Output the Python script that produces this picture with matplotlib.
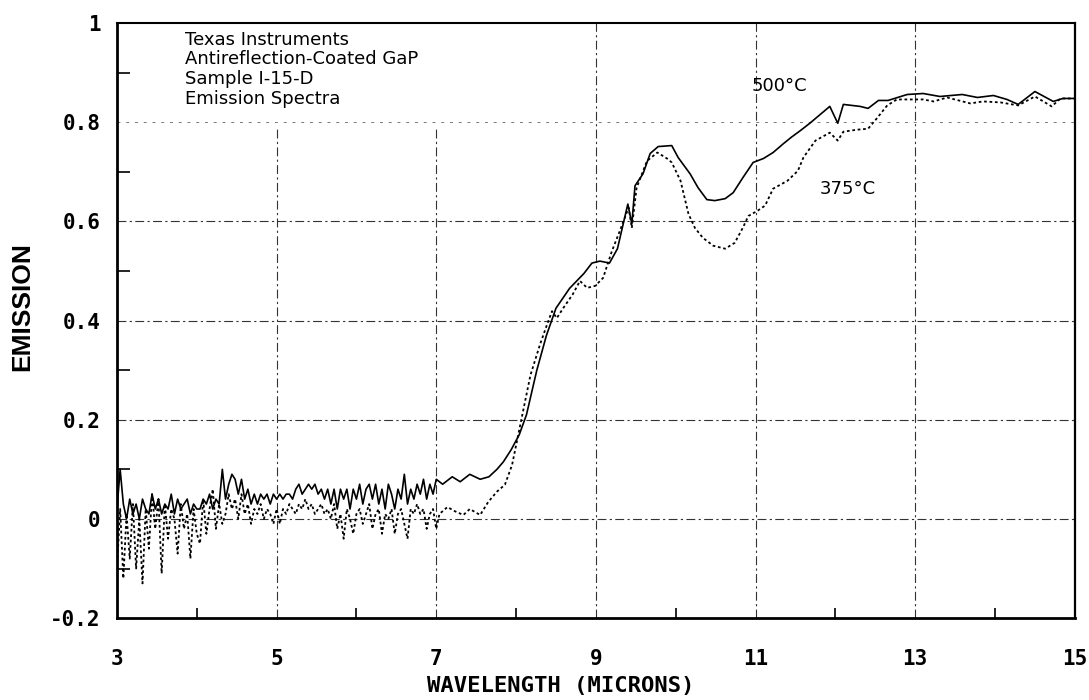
import numpy as np
import matplotlib
matplotlib.use("Agg")
import matplotlib.pyplot as plt
from matplotlib.ticker import MultipleLocator

# --- noisy region 3.00-7.00 um, sampled every 0.04 um ---
x_noisy = np.round(np.arange(3.0, 7.0001, 0.04), 2)

emis_500_noisy = [
    0.02, 0.10, 0.03, 0.00, 0.04, 0.01, 0.03, 0.00, 0.04, 0.02, 0.01,
    0.05, 0.02, 0.04, 0.01, 0.03, 0.02, 0.05, 0.01, 0.04, 0.02, 0.03, 0.04, 0.01, 0.03, 0.02,
    0.02, 0.04, 0.03, 0.05, 0.02, 0.04, 0.03, 0.10, 0.04, 0.07, 0.09, 0.08, 0.05, 0.08, 0.04,
    0.06, 0.03, 0.05, 0.03, 0.05, 0.04, 0.05, 0.03, 0.05, 0.04,
    0.05, 0.04, 0.05, 0.05, 0.04, 0.06, 0.07, 0.05, 0.06, 0.07, 0.06, 0.07, 0.05, 0.06, 0.04,
    0.06, 0.03, 0.06, 0.02, 0.06, 0.04, 0.06, 0.02, 0.06, 0.04,
    0.07, 0.03, 0.06, 0.07, 0.04, 0.07, 0.03, 0.06, 0.02, 0.07, 0.05, 0.02, 0.06, 0.04, 0.09,
    0.03, 0.06, 0.04, 0.07, 0.05, 0.08, 0.04, 0.07, 0.05, 0.08,
]

emis_375_noisy = [
    -0.10, 0.02, -0.12, 0.01, -0.08, 0.03, -0.10, 0.00, -0.13, 0.02, -0.06,
    0.05, -0.02, 0.04, -0.11, 0.03, -0.04, 0.02, 0.00, -0.07, 0.03, -0.02, 0.01, -0.08, 0.02, -0.03,
    -0.05, 0.04, -0.03, 0.02, 0.06, -0.02, 0.03, -0.01, 0.01, 0.05, 0.02, 0.04, 0.00, 0.05, 0.01,
    0.03, -0.01, 0.02, 0.01, 0.03, 0.00, 0.02, 0.01, -0.01, 0.02,
    -0.01, 0.02, 0.01, 0.03, 0.02, 0.01, 0.03, 0.02, 0.04, 0.02, 0.03, 0.01, 0.02, 0.03, 0.01,
    0.02, 0.00, 0.03, -0.02, 0.01, -0.04, 0.02, 0.00, -0.03, 0.01,
    0.02, -0.01, 0.01, 0.03, -0.02, 0.01, 0.02, -0.03, 0.01, 0.00, 0.02, -0.03, 0.01, 0.02, -0.01,
    -0.04, 0.02, 0.01, 0.03, 0.01, 0.02, -0.02, 0.01, 0.02, -0.02,
]

# --- smooth region above 7 um ---
x_500_hi = [7.08, 7.2, 7.3, 7.42, 7.55, 7.66, 7.76, 7.84, 7.94, 8.04, 8.13, 8.26, 8.38, 8.5,
            8.67, 8.85, 8.95, 9.05, 9.17, 9.27, 9.4, 9.45, 9.49, 9.59, 9.68, 9.78, 9.95,
            10.03, 10.18, 10.28, 10.39, 10.49, 10.62, 10.72, 10.84, 10.97, 11.1, 11.22,
            11.35, 11.45, 11.56, 11.68, 11.93, 12.03, 12.1, 12.31, 12.41, 12.54, 12.66,
            12.9, 13.1, 13.31, 13.59, 13.78, 13.98, 14.15, 14.29, 14.5, 14.73, 14.85, 15.0]
emis_500_hi = [0.07, 0.085, 0.075, 0.09, 0.08, 0.085, 0.10, 0.115, 0.14, 0.17, 0.21, 0.30,
               0.37, 0.425, 0.465, 0.495, 0.516, 0.52, 0.516, 0.545, 0.635, 0.595, 0.672,
               0.696, 0.737, 0.751, 0.753, 0.729, 0.696, 0.668, 0.644, 0.642, 0.646, 0.658,
               0.688, 0.719, 0.727, 0.739, 0.757, 0.77, 0.783, 0.798, 0.832, 0.798, 0.836,
               0.832, 0.828, 0.844, 0.844, 0.856, 0.858, 0.852, 0.856, 0.850, 0.854, 0.846,
               0.836, 0.862, 0.842, 0.848, 0.848]

x_375_hi = [7.04, 7.14, 7.24, 7.34, 7.42, 7.55, 7.65, 7.76, 7.86, 7.95, 8.01, 8.08, 8.18, 8.3,
            8.39, 8.45, 8.51, 8.59, 8.71, 8.8, 8.89, 8.99, 9.09, 9.2, 9.3, 9.41, 9.45, 9.51,
            9.64, 9.77, 9.89, 9.95, 10.06, 10.16, 10.24, 10.34, 10.47, 10.62, 10.74, 10.84,
            10.91, 11.02, 11.12, 11.22, 11.4, 11.53, 11.6, 11.75, 11.93, 12.03, 12.1, 12.27,
            12.41, 12.52, 12.65, 12.77, 12.92, 13.1, 13.23, 13.4, 13.69, 13.85, 14.07, 14.29,
            14.5, 14.71, 14.82, 15.0]
emis_375_hi = [0.01, 0.024, 0.015, 0.008, 0.02, 0.008, 0.034, 0.055, 0.069, 0.109, 0.156,
               0.21, 0.29, 0.352, 0.393, 0.419, 0.405, 0.425, 0.453, 0.48, 0.466, 0.47, 0.486,
               0.54, 0.581, 0.628, 0.587, 0.668, 0.722, 0.739, 0.727, 0.719, 0.682, 0.615,
               0.587, 0.567, 0.551, 0.545, 0.557, 0.587, 0.611, 0.621, 0.632, 0.666, 0.682,
               0.702, 0.729, 0.763, 0.779, 0.763, 0.781, 0.785, 0.787, 0.808, 0.834, 0.846,
               0.846, 0.846, 0.842, 0.850, 0.838, 0.842, 0.840, 0.834, 0.852, 0.832, 0.848,
               0.848]

x_500 = np.concatenate([x_noisy, x_500_hi])
y_500 = np.concatenate([emis_500_noisy, emis_500_hi])
x_375 = np.concatenate([x_noisy, x_375_hi])
y_375 = np.concatenate([emis_375_noisy, emis_375_hi])

MONO = "DejaVu Sans Mono"
SANS = "DejaVu Sans"
LABEL = "Liberation Sans"

fig = plt.figure(figsize=(10.89, 7.0), dpi=100)
ax = fig.add_axes([0.1074, 0.117, 0.8796, 0.850])

# grid drawn by hand: the two left verticals stop under the caption
grid_kw = dict(color="#333333", lw=0.8, ls=(0, (8, 3, 2, 3)), zorder=1)
for gx in (5, 7):
    ax.plot([gx, gx], [-0.2, 0.79], **grid_kw)
for gx in (9, 11, 13):
    ax.axvline(gx, **grid_kw)
for gy in (0.0, 0.2, 0.4, 0.6):
    ax.axhline(gy, **grid_kw)
ax.axhline(0.8, color="#777777", lw=0.7, ls=(0, (3, 6)), zorder=1)

ax.plot(x_500, y_500, color="black", lw=1.2, zorder=3)
ax.plot(x_375, y_375, color="black", lw=1.3, ls=(0, (1.5, 1.5)), zorder=3)

ax.set_xlim(3, 15)
ax.set_ylim(-0.2, 1.0)
ax.set_xticks([3, 5, 7, 9, 11, 13, 15])
ax.set_yticks([-0.2, 0, 0.2, 0.4, 0.6, 0.8, 1.0])
ax.set_yticklabels(["-0.2", "0", "0.2", "0.4", "0.6", "0.8", "1"])
ax.xaxis.set_minor_locator(MultipleLocator(1))
ax.yaxis.set_minor_locator(MultipleLocator(0.1))
ax.tick_params(which="major", length=0, pad=12)
ax.tick_params(axis="x", which="major", pad=22)
ax.tick_params(which="minor", direction="in", length=9, width=1.2, color="black")
ax.tick_params(axis="x", which="minor", length=7)
for lab in ax.get_xticklabels() + ax.get_yticklabels():
    lab.set_fontfamily(MONO)
    lab.set_fontweight("bold")
    lab.set_fontsize(15)

for side, w in (("left", 2.0), ("bottom", 2.0), ("top", 1.5), ("right", 1.6)):
    ax.spines[side].set_linewidth(w)

ax.set_xlabel("WAVELENGTH (MICRONS)", fontfamily=MONO, fontweight="bold", fontsize=16)
ax.xaxis.set_label_coords(0.4635, -0.098)
fig.text(22 / 1089, 1 - 307 / 700, "EMISSION", rotation=90, ha="center", va="center",
         fontfamily=LABEL, fontweight="bold", fontsize=19)

ax.text(3.85, 0.985, "Texas Instruments\nAntireflection-Coated GaP\n"
        "Sample I-15-D\nEmission Spectra",
        fontfamily=SANS, fontsize=13, va="top", ha="left", linespacing=1.12,
        zorder=4)
ax.text(11.3, 0.874, "500°C", fontfamily=SANS, fontsize=13, ha="center", va="center")
ax.text(12.15, 0.666, "375°C", fontfamily=SANS, fontsize=13, ha="center", va="center")

fig.savefig("out.png", dpi=100)
